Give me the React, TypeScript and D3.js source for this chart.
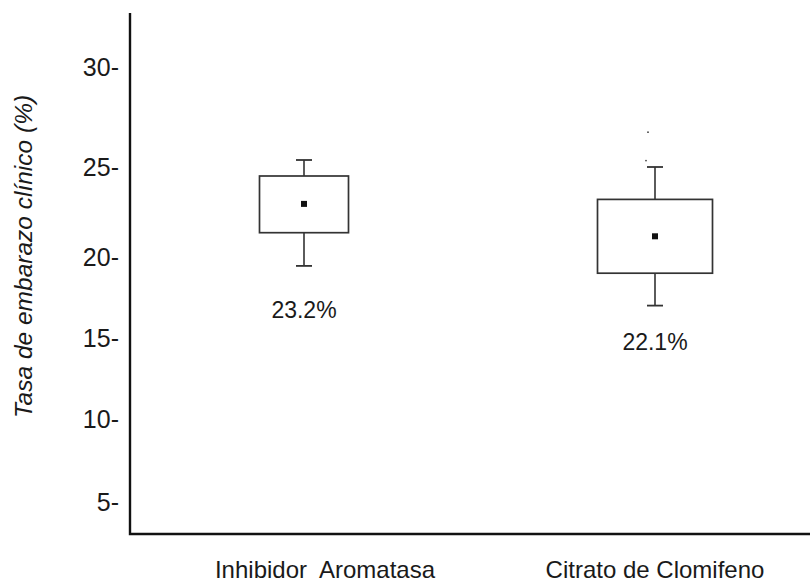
import * as d3 from "d3";
import { useEffect, useRef } from "react";

// groups and their box-plot summaries (% clinical pregnancy)
const categories = ["Inhibidor  Aromatasa", "Citrato de Clomifeno"];
const whiskerLow = [19.45, 17.0];
const q1 = [21.35, 19.0];
const mean = [22.95, 21.15];
const q3 = [24.5, 23.2];
const whiskerHigh = [25.35, 25.0];
const outliers = [[], [25.32, 26.74]];
const rateLabels = ["23.2%", "22.1%"];

// the printed axis is not evenly spaced, so tick values map piecewise
const yTicks = [5, 10, 15, 20, 25, 30];
const yTickPx = [502, 419, 338, 257, 167, 67];

const App = () => {
  const ref = useRef(null);

  useEffect(() => {
    d3.select(ref.current).select("svg").remove();

    const width = 810,
      height = 585;
    const axisX = 130,
      axisBottom = 534,
      axisTop = 13;

    const svg = d3
      .select(ref.current)
      .append("svg")
      .attr("width", width)
      .attr("height", height)
      .style("position", "absolute")
      .style("left", "0px")
      .style("top", "0px")
      .style("background", "#fff")
      .style("font-family", "'Liberation Sans', Arial, sans-serif");

    const y = d3
      .scaleLinear()
      .domain([3, ...yTicks, 32.7])
      .range([axisBottom, ...yTickPx, axisTop]);

    const x = d3.scalePoint().domain(categories).range([304, 655]);

    const boxW = [89, 115];
    const capW = 16;
    const labelDx = [21, 0];
    const rateDy = [52, 44];

    // Y axis: text-only ticks with trailing dash
    const yAxis = svg
      .append("g")
      .attr("transform", `translate(${axisX},0)`)
      .call(
        d3
          .axisLeft(y)
          .tickValues(yTicks)
          .tickSize(0)
          .tickPadding(11)
          .tickFormat((d) => `${d}-`)
      );
    yAxis.select(".domain").remove();
    yAxis
      .selectAll("text")
      .attr("font-size", 25)
      .attr("font-family", "'Liberation Sans', Arial, sans-serif")
      .attr("fill", "#1a1a1a");

    // axis lines
    svg
      .append("path")
      .attr("d", `M${axisX},${axisTop}V${axisBottom}H${width}`)
      .attr("fill", "none")
      .attr("stroke", "#111")
      .attr("stroke-width", 2.4);

    // y title
    svg
      .append("text")
      .attr("transform", `translate(32,${(axisTop + axisBottom) / 2 - 17}) rotate(-90)`)
      .attr("text-anchor", "middle")
      .attr("font-size", 24.5)
      .attr("font-style", "italic")
      .attr("fill", "#1a1a1a")
      .text("Tasa de embarazo clínico (%)");

    const g = svg
      .selectAll("g.box")
      .data(categories)
      .join("g")
      .attr("class", "box");

    // whiskers
    g.append("line")
      .attr("x1", (d) => x(d))
      .attr("x2", (d) => x(d))
      .attr("y1", (d, i) => y(whiskerHigh[i]))
      .attr("y2", (d, i) => y(q3[i]))
      .attr("stroke", "#333")
      .attr("stroke-width", 1.6);
    g.append("line")
      .attr("x1", (d) => x(d))
      .attr("x2", (d) => x(d))
      .attr("y1", (d, i) => y(q1[i]))
      .attr("y2", (d, i) => y(whiskerLow[i]))
      .attr("stroke", "#333")
      .attr("stroke-width", 1.6);
    [whiskerHigh, whiskerLow].forEach((arr) => {
      g.append("line")
        .attr("x1", (d) => x(d) - capW / 2)
        .attr("x2", (d) => x(d) + capW / 2)
        .attr("y1", (d, i) => y(arr[i]))
        .attr("y2", (d, i) => y(arr[i]))
        .attr("stroke", "#333")
        .attr("stroke-width", 1.8);
    });

    // boxes
    g.append("rect")
      .attr("x", (d, i) => x(d) - boxW[i] / 2)
      .attr("y", (d, i) => y(q3[i]))
      .attr("width", (d, i) => boxW[i])
      .attr("height", (d, i) => y(q1[i]) - y(q3[i]))
      .attr("fill", "none")
      .attr("stroke", "#333")
      .attr("stroke-width", 1.7);

    // mean markers
    g.append("rect")
      .attr("x", (d) => x(d) - 3)
      .attr("y", (d, i) => y(mean[i]) - 3)
      .attr("width", 6)
      .attr("height", 6)
      .attr("fill", "#111");

    // outlier specks
    g.selectAll("circle")
      .data((d, i) => outliers[i].map((v) => ({ v, c: d })))
      .join("circle")
      .attr("cx", (o, j) => x(o.c) - 9 + j * 2)
      .attr("cy", (o) => y(o.v))
      .attr("r", 0.9)
      .attr("fill", "#444");

    // rate labels
    g.append("text")
      .attr("x", (d) => x(d))
      .attr("y", (d, i) => y(whiskerLow[i]) + rateDy[i])
      .attr("text-anchor", "middle")
      .attr("font-size", 23)
      .attr("fill", "#1a1a1a")
      .text((d, i) => rateLabels[i]);

    // category labels
    svg
      .append("g")
      .selectAll("text")
      .data(categories)
      .join("text")
      .attr("x", (d, i) => x(d) + labelDx[i])
      .attr("y", 578)
      .attr("text-anchor", "middle")
      .attr("font-size", 24)
      .attr("fill", "#1a1a1a")
      .attr("xml:space", "preserve")
      .style("white-space", "pre")
      .text((d) => d);
  }, []);

  return <div ref={ref} />;
};

export default App;
